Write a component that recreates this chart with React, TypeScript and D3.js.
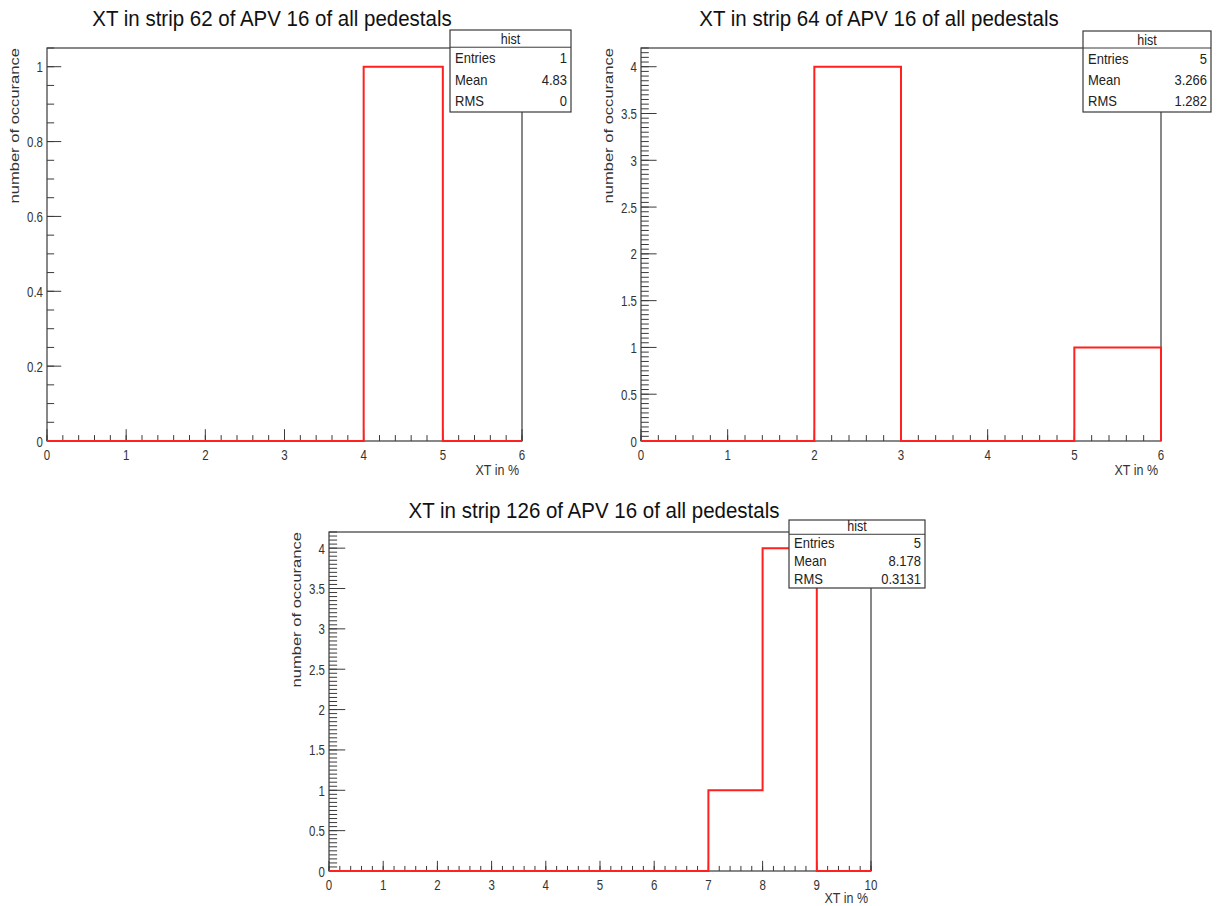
import React from "react";
import * as d3 from "d3";

// Bin contents (unit-width bins starting at 0)
const strip62Counts = [0, 0, 0, 0, 1, 0];
const strip64Counts = [0, 0, 4, 0, 0, 1];
const strip126Counts = [0, 0, 0, 0, 0, 0, 0, 1, 4, 0];

const titles = [
  "XT in strip 62 of APV 16 of all pedestals",
  "XT in strip 64 of APV 16 of all pedestals",
  "XT in strip 126 of APV 16 of all pedestals",
];

// Statistics box contents: [entries, mean, rms]
const statsLabels = ["Entries", "Mean", "RMS"];
const strip62Stats = ["1", "4.83", "0"];
const strip64Stats = ["5", "3.266", "1.282"];
const strip126Stats = ["5", "8.178", "0.3131"];

const xTicks6 = [0, 1, 2, 3, 4, 5, 6];
const xTicks10 = [0, 1, 2, 3, 4, 5, 6, 7, 8, 9, 10];
const yTicksUnit = [0, 0.2, 0.4, 0.6, 0.8, 1];
const yTicksFour = [0, 0.5, 1, 1.5, 2, 2.5, 3, 3.5, 4];

const xTitle = "XT in %";
const yTitle = "number of occurance";
const histName = "hist";

const FONT = "'Liberation Sans', Arial, Helvetica, sans-serif";
const AXIS = "#3a3a3a";
const RED = "#ff2020";

type TxtProps = {
  x: number;
  y: number;
  size: number;
  sx?: number;
  sy?: number;
  rotate?: number;
  anchor?: "start" | "middle" | "end";
  fill?: string;
  children: React.ReactNode;
};

// Text with an independent horizontal/vertical stretch (taller glyphs)
function Txt({ x, y, size, sx = 1, sy = 1, rotate = 0, anchor = "start", fill = "#222", children }: TxtProps) {
  return (
    <text
      transform={`translate(${x},${y}) rotate(${rotate}) scale(${sx},${sy})`}
      textAnchor={anchor}
      fontFamily={FONT}
      fontSize={size}
      fill={fill}
    >
      {children}
    </text>
  );
}

type PanelProps = {
  counts: number[];
  title: string;
  stats: string[];
  xTicks: number[];
  yTicks: number[];
  yMax: number;
  yMinorStep: number;
  xMinorStep: number;
  frame: { left: number; right: number; top: number; bottom: number };
  titleX: number;
  titleY: number;
  xTitleOffset: number;
  box: { x: number; y: number; w: number; h: number };
};

function Panel(p: PanelProps) {
  const { frame } = p;
  const nb = p.counts.length;
  const x = d3.scaleLinear().domain([0, nb]).range([frame.left, frame.right]);
  const y = d3.scaleLinear().domain([0, p.yMax]).range([frame.bottom, frame.top]);
  const fw = frame.right - frame.left;
  const fh = frame.bottom - frame.top;
  const yMajLen = 0.03 * fw;
  const xMajLen = 0.03 * fh;

  const yMinor = d3.range(0, p.yMax + 1e-9, p.yMinorStep);
  const xMinor = d3.range(0, nb + 1e-9, p.xMinorStep);

  const line = d3
    .line<[number, number]>()
    .x((d) => x(d[0]))
    .y((d) => y(d[1]));

  // Step outline: zero-level runs are drawn along the axis, steps rise and fall at bin edges
  const outline: [number, number][] = [[0, 0]];
  for (let i = 0; i < nb; i++) {
    const c = p.counts[i];
    const prev = i > 0 ? p.counts[i - 1] : 0;
    if (c === 0 && prev === 0) {
      outline.push([i + 1, 0]);
    } else {
      outline.push([i, c]);
      outline.push([i + 1, c]);
      if (c !== 0 && (i + 1 < nb ? p.counts[i + 1] === 0 : true)) {
        outline.push([i + 1, 0]);
      }
    }
  }

  const b = p.box;
  const headerH = b.h * 0.21;
  const rowH = (b.h - headerH) / 3;

  return (
    <g>
      <Txt x={p.titleX} y={p.titleY} size={20.5} sy={1.12} anchor="middle" fill="#111">
        {p.title}
      </Txt>

      {/* frame */}
      <rect
        x={frame.left}
        y={frame.top}
        width={fw}
        height={fh}
        fill="none"
        stroke={AXIS}
        strokeWidth={1.2}
      />

      {/* y ticks */}
      {yMinor.map((v, i) => (
        <line
          key={"ym" + i}
          x1={frame.left}
          x2={frame.left + yMajLen / 2}
          y1={y(v)}
          y2={y(v)}
          stroke={AXIS}
          strokeWidth={1}
        />
      ))}
      {p.yTicks.map((v) => (
        <g key={"yt" + v}>
          <line
            x1={frame.left}
            x2={frame.left + yMajLen}
            y1={y(v)}
            y2={y(v)}
            stroke={AXIS}
            strokeWidth={1}
          />
          <Txt x={frame.left - 4} y={y(v) + 5.5} size={11.5} sy={1.3} anchor="end" fill="#333">
            {String(v)}
          </Txt>
        </g>
      ))}

      {/* x ticks */}
      {xMinor.map((v, i) => (
        <line
          key={"xm" + i}
          x1={x(v)}
          x2={x(v)}
          y1={frame.bottom}
          y2={frame.bottom - xMajLen / 2}
          stroke={AXIS}
          strokeWidth={1}
        />
      ))}
      {p.xTicks.map((v) => (
        <g key={"xt" + v}>
          <line
            x1={x(v)}
            x2={x(v)}
            y1={frame.bottom}
            y2={frame.bottom - xMajLen}
            stroke={AXIS}
            strokeWidth={1}
          />
          <Txt x={x(v)} y={frame.bottom + 18.5} size={11.5} sy={1.3} anchor="middle" fill="#333">
            {String(v)}
          </Txt>
        </g>
      ))}

      {/* histogram outline */}
      <path d={line(outline) || ""} fill="none" stroke={RED} strokeWidth={2} />

      {/* axis titles */}
      <Txt
        x={frame.right - 3}
        y={frame.bottom + p.xTitleOffset}
        size={12.5}
        sy={1.15}
        anchor="end"
        fill="#333"
      >
        {xTitle}
      </Txt>
      <Txt
        x={frame.left - 28}
        y={frame.top}
        size={12}
        sx={1.38}
        rotate={-90}
        anchor="end"
        fill="#333"
      >
        {yTitle}
      </Txt>

      {/* statistics box */}
      <rect x={b.x} y={b.y} width={b.w} height={b.h} fill="#fff" stroke={AXIS} strokeWidth={1.2} />
      <line
        x1={b.x}
        x2={b.x + b.w}
        y1={b.y + headerH}
        y2={b.y + headerH}
        stroke={AXIS}
        strokeWidth={1}
      />
      <Txt x={b.x + b.w / 2} y={b.y + headerH - 3.5} size={12.5} sy={1.1} anchor="middle">
        {histName}
      </Txt>
      {statsLabels.map((lab, i) => (
        <g key={lab}>
          <Txt x={b.x + 5} y={b.y + headerH + rowH * (i + 0.5) + 5} size={13} sy={1.15}>
            {lab}
          </Txt>
          <Txt
            x={b.x + b.w - 4}
            y={b.y + headerH + rowH * (i + 0.5) + 5}
            size={13}
            sy={1.15}
            anchor="end"
          >
            {p.stats[i]}
          </Txt>
        </g>
      ))}
    </g>
  );
}

export default function App() {
  return (
    <svg
      width={1217}
      height={906}
      style={{ position: "absolute", left: 0, top: 0, background: "#fff" }}
    >
      <rect x={0} y={0} width={1217} height={906} fill="#fff" />
      <Panel
        counts={strip62Counts}
        title={titles[0]}
        stats={strip62Stats}
        xTicks={xTicks6}
        yTicks={yTicksUnit}
        yMax={1.05}
        yMinorStep={0.05}
        xMinorStep={0.2}
        frame={{ left: 47, right: 522, top: 48, bottom: 441 }}
        titleX={272}
        titleY={26}
        xTitleOffset={34}
        box={{ x: 450, y: 30, w: 121, h: 82 }}
      />
      <Panel
        counts={strip64Counts}
        title={titles[1]}
        stats={strip64Stats}
        xTicks={xTicks6}
        yTicks={yTicksFour}
        yMax={4.2}
        yMinorStep={0.05}
        xMinorStep={0.2}
        frame={{ left: 641, right: 1161, top: 48, bottom: 441 }}
        titleX={879}
        titleY={26}
        xTitleOffset={34}
        box={{ x: 1083, y: 31, w: 128, h: 81 }}
      />
      <Panel
        counts={strip126Counts}
        title={titles[2]}
        stats={strip126Stats}
        xTicks={xTicks10}
        yTicks={yTicksFour}
        yMax={4.2}
        yMinorStep={0.05}
        xMinorStep={0.2}
        frame={{ left: 329, right: 871, top: 532, bottom: 871 }}
        titleX={594}
        titleY={518}
        xTitleOffset={31.5}
        box={{ x: 789, y: 520, w: 136, h: 68 }}
      />
    </svg>
  );
}
